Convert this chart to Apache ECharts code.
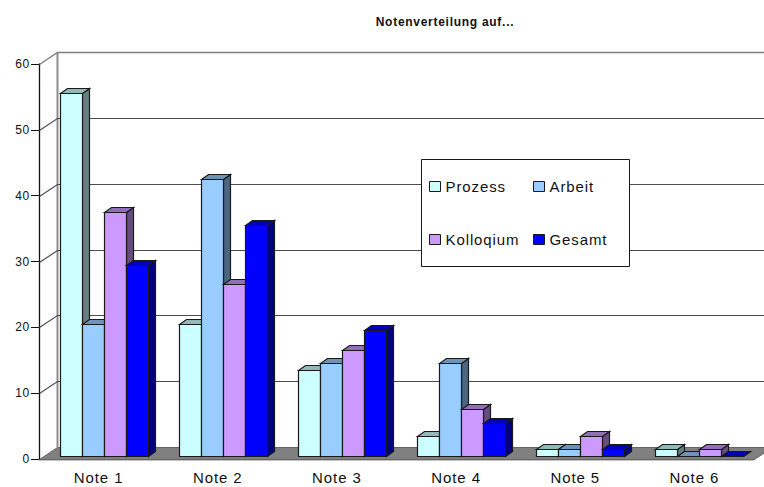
<!DOCTYPE html>
<html><head><meta charset="utf-8">
<style>html,body{margin:0;padding:0;background:#fff}#c{width:764px;height:487px}svg text{letter-spacing:0.06em}</style>
<script src="https://cdn.jsdelivr.net/npm/echarts@6/dist/echarts.min.js"></script>
</head><body><div id="c"></div>
<script>
var categories = ['Note 1','Note 2','Note 3','Note 4','Note 5','Note 6'];
var prozess   = [55,20,13,3,1,1];
var arbeit    = [20,42,14,14,1,0];
var kolloqium = [37,26,16,7,3,1];
var gesamt    = [29,35,19,5,1,0];
var yTicks    = [0,10,20,30,40,50,60];
var title     = 'Notenverteilung auf...';

var FONT = '"Liberation Sans", Arial, sans-serif';
var BACK = [18,-12], FRONT = [5,-3.5], DEPTH = [7,-5], EDGE = '#1a1a1a';

function shade(hex,f){
  var n=parseInt(hex.slice(1),16);
  return 'rgb('+Math.round((n>>16&255)*f)+','+Math.round((n>>8&255)*f)+','+Math.round((n&255)*f)+')';
}
function barSeries(name,values,color,idx){
  return {
    type:'custom', name:name, z:2+idx*0.01,
    itemStyle:{color:color,borderColor:EDGE,borderWidth:1},
    encode:{x:0,y:1},
    data:values.map(function(v,i){return [i,v];}),
    renderItem:function(params,api){
      var cat=api.value(0), val=api.value(1);
      var top=api.coord([cat,val]), base=api.coord([cat,0]);
      var band=api.size([1,0])[0], w=band*0.1845;
      var x0=Math.round(top[0]+FRONT[0]+(idx-2)*w)+0.5;
      var x1=Math.round(top[0]+FRONT[0]+(idx-1)*w)+0.5;
      var yt=Math.round(top[1]+FRONT[1])+0.5, yb=Math.round(base[1]+FRONT[1])+0.5;
      var dx=DEPTH[0], dy=DEPTH[1];
      var st={stroke:EDGE,lineWidth:1.2};
      var kids=[];
      kids.push({type:'polygon',shape:{points:[[x1,yt],[x1+dx,yt+dy],[x1+dx,yb+dy],[x1,yb]]},
        style:Object.assign({fill:shade(color,0.5)},st)});
      kids.push({type:'polygon',shape:{points:[[x0,yt],[x0+dx,yt+dy],[x1+dx,yt+dy],[x1,yt]]},
        style:Object.assign({fill:shade(color,0.72)},st)});
      if(val>0) kids.push({type:'rect',shape:{x:x0,y:yt,width:x1-x0,height:yb-yt},
        style:Object.assign({fill:color},st)});
      return {type:'group',children:kids};
    }
  };
}
var backdrop = {
  type:'custom', z:1, silent:true, encode:{y:0},
  data:yTicks.map(function(v){return [v];}),
  renderItem:function(params,api){
    var v=api.value(0), cs=params.coordSys, p=api.coord([0,v]);
    var xl=cs.x+0.5, xr=cs.x+cs.width+0.5, y=Math.round(p[1])+0.5;
    var bx=xl+BACK[0], by=y+BACK[1], farX=xr+BACK[0];
    var line={stroke:'#4d4d4d',lineWidth:1.2,fill:null};
    var kids=[];
    if(v===0){
      kids.push({type:'polygon',shape:{points:[[xl,y],[bx,by],[farX,by],[xr,y]]},style:{fill:'#808080',stroke:'#666',lineWidth:1}});
      kids.push({type:'line',shape:{x1:bx,y1:by,x2:bx,y2:cs.y+0.5+BACK[1]},style:{stroke:'#8c8c8c',lineWidth:2}});
    } else {
      kids.push({type:'polyline',shape:{points:[[xl,y],[bx,by],[farX,by]]},style:v===60?{stroke:'#808080',lineWidth:1.5,fill:null}:line});
    }
    return {type:'group',children:kids};
  }
};
function legendAt(name,x,y){
  return {data:[name],left:x,top:y,orient:'horizontal',padding:0,itemWidth:11,itemHeight:10,selectedMode:false,
    icon:'rect',itemStyle:{borderColor:EDGE,borderWidth:1},
    textStyle:{fontFamily:FONT,fontSize:15,color:'#111'}};
}
var chart=echarts.init(document.getElementById('c'),null,{renderer:'svg',width:764,height:487});
chart.setOption({
  animation:false, backgroundColor:'#fff',
  title:{text:title,left:440,top:11,textAlign:'center',textStyle:{fontFamily:FONT,fontSize:12,fontWeight:'bold',color:'#111'}},
  grid:{left:39,right:10,top:64,bottom:28,containLabel:false},
  xAxis:{type:'category',data:categories,boundaryGap:true,
    axisLine:{lineStyle:{color:'#111',width:1.3}},
    axisTick:{length:7,alignWithLabel:false,lineStyle:{color:'#111'}},
    axisLabel:{fontFamily:FONT,fontSize:15,color:'#111',margin:11},splitLine:{show:false}},
  yAxis:{type:'value',min:0,max:60,interval:10,
    axisLine:{show:true,lineStyle:{color:'#111',width:1.3}},
    axisTick:{show:true,length:8,lineStyle:{color:'#111'}},
    axisLabel:{fontFamily:FONT,fontSize:12,color:'#111',margin:9},splitLine:{show:false}},
  legend:[legendAt('Prozess',429,179),legendAt('Arbeit',533,179),legendAt('Kolloqium',429,232),legendAt('Gesamt',533,232)],
  graphic:[{type:'rect',z:3,shape:{x:421.5,y:159.5,width:208,height:107},style:{fill:'#fff',stroke:'#1a1a1a',lineWidth:1}}],
  series:[backdrop,
    barSeries('Prozess',prozess,'#CCFFFF',0),
    barSeries('Arbeit',arbeit,'#99CCFF',1),
    barSeries('Kolloqium',kolloqium,'#CC99FF',2),
    barSeries('Gesamt',gesamt,'#0000FF',3)]
});
</script></body></html>
